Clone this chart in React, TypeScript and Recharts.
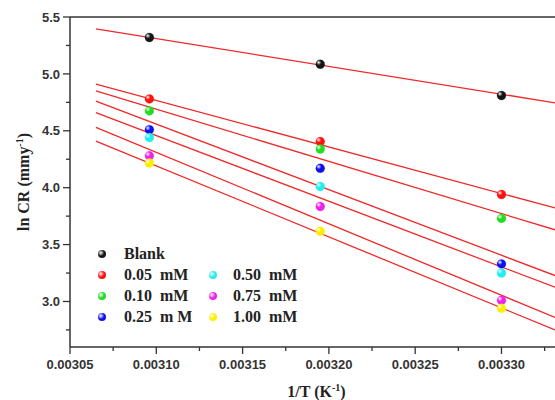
import React from 'react';
import { ComposedChart, Line, Scatter, XAxis, YAxis, ReferenceLine, Legend } from 'recharts';

const tempX = [0.003096, 0.003195, 0.0033];
const seriesNames = ['Blank', '0.05  mM', '0.10  mM', '0.25  m M', '0.50  mM', '0.75  mM', '1.00  mM'];
const seriesColors = ['#151515', '#ff1010', '#22dd22', '#1010ee', '#22eeee', '#ee22ee', '#ffee00'];
const blank = [5.32, 5.085, 4.81];
const c005 = [4.78, 4.405, 3.94];
const c010 = [4.675, 4.34, 3.73];
const c025 = [4.51, 4.17, 3.33];
const c050 = [4.44, 4.01, 3.25];
const c075 = [4.28, 3.835, 3.01];
const c100 = [4.217, 3.617, 2.94];
const seriesValues = [blank, c005, c010, c025, c050, c075, c100];

const fitX = [0.003065, 0.003331];
const fitStart = [5.395, 4.91, 4.85, 4.76, 4.66, 4.53, 4.41];
const fitEnd = [4.746, 3.822, 3.63, 3.228, 3.125, 2.86, 2.75];

const xTicks = [0.00305, 0.003075, 0.0031, 0.003125, 0.00315, 0.003175, 0.0032, 0.003225, 0.00325, 0.003275, 0.0033, 0.003325];
const yTicks = [2.75, 3.0, 3.25, 3.5, 3.75, 4.0, 4.25, 4.5, 4.75, 5.0, 5.25, 5.5];

const legendRows = [0, 1, 2, 3, 1, 2, 3];
const legendCols = [0, 0, 0, 0, 1, 1, 1];

const AXIS = '#333';
const tickFont = { fontFamily: '"Liberation Sans", Arial, sans-serif', fontWeight: 700, fontSize: 13, fill: '#333' };
const serif = '"Liberation Serif", "Times New Roman", serif';

const pointData = seriesValues.map((vals) => vals.map((y, i) => ({ x: tempX[i], y })));
const fitData = fitStart.map((s, i) => [
  { x: fitX[0], y: s },
  { x: fitX[1], y: fitEnd[i] },
]);

const isMajorX = (v: number) => Math.abs(v * 20000 - Math.round(v * 20000)) < 1e-6;
const isMajorY = (v: number) => Math.abs(v * 2 - Math.round(v * 2)) < 1e-6;

const XTick = (props: any) => {
  const { x, y, payload } = props;
  const major = isMajorX(payload.value);
  return (
    <g>
      <line x1={x} x2={x} y1={y} y2={y + (major ? 7 : 4)} stroke={AXIS} strokeWidth={1.3} />
      {major && (
        <text x={x} y={y + 13} dy="0.71em" textAnchor="middle" {...tickFont}>
          {payload.value.toFixed(5)}
        </text>
      )}
    </g>
  );
};

const YTick = (props: any) => {
  const { x, y, payload } = props;
  const major = isMajorY(payload.value);
  return (
    <g>
      <line x1={x - (major ? 7 : 4)} x2={x} y1={y} y2={y} stroke={AXIS} strokeWidth={1.3} />
      {major && (
        <text x={x - 10} y={y} dy="0.355em" textAnchor="end" {...tickFont}>
          {payload.value.toFixed(1)}
        </text>
      )}
    </g>
  );
};

const Sphere = (color: string, id: number, r: number) => (props: any) => {
  const { cx, cy } = props;
  if (cx == null || cy == null) return null;
  return <circle cx={cx} cy={cy} r={r} fill={`url(#sph${id})`} stroke={color} strokeOpacity={0.4} strokeWidth={0.5} />;
};

const ballBg = (c: string) => `radial-gradient(circle at 35% 35%, #ffffff 0%, ${c} 45%, ${c} 100%)`;

const LegendContent = () => (
  <div style={{ position: 'relative', width: 555, height: 400 }}>
    {seriesNames.map((name, i) => {
      const row = legendRows[i];
      const col = legendCols[i];
      const cy = 253.5 + row * 21.3;
      const mx = col === 0 ? 102 : 213;
      const tx = col === 0 ? 124 : 233;
      return (
        <React.Fragment key={name}>
          <div
            style={{
              position: 'absolute',
              left: mx - 4,
              top: cy - 4,
              width: 8,
              height: 8,
              borderRadius: '50%',
              background: ballBg(seriesColors[i]),
            }}
          />
          <div
            style={{
              position: 'absolute',
              left: tx,
              top: cy - 8,
              height: 16,
              lineHeight: '16px',
              fontFamily: serif,
              fontWeight: 700,
              fontSize: 16,
              color: '#222',
              whiteSpace: 'pre',
            }}
          >
            {name}
          </div>
        </React.Fragment>
      );
    })}
  </div>
);

const YTitle = (props: any) => {
  const vb = props.viewBox || { x: 0, y: 17, width: 70, height: 330 };
  const cx = 29;
  const cy = vb.y + vb.height / 2;
  return (
    <text
      x={cx}
      y={cy}
      transform={`rotate(-90 ${cx} ${cy})`}
      textAnchor="middle"
      fontFamily={serif}
      fontWeight={700}
      fontSize={16}
      fill="#222"
    >
      ln CR (mmy
      <tspan fontSize={10} dy={-6}>-1</tspan>
      <tspan dy={6}>)</tspan>
    </text>
  );
};

const XTitle = (props: any) => {
  const vb = props.viewBox || { x: 70, y: 347, width: 485, height: 53 };
  const cx = vb.x + vb.width / 2 + 4;
  return (
    <text x={cx} y={397} textAnchor="middle" fontFamily={serif} fontWeight={700} fontSize={16} fill="#222">
      1/T (K
      <tspan fontSize={10} dy={-6}>-1</tspan>
      <tspan dy={6}>)</tspan>
    </text>
  );
};

export default function App() {
  return (
    <div style={{ position: 'absolute', left: 0, top: 0, width: 555, height: 400, background: '#fff' }}>
      <ComposedChart width={555} height={400} margin={{ top: 17, right: 0, left: 0, bottom: 0 }}>
        <defs>
          {seriesColors.map((c, i) => (
            <radialGradient key={i} id={`sph${i}`} cx="35%" cy="35%" r="70%" fx="32%" fy="30%">
              <stop offset="0%" stopColor="#ffffff" />
              <stop offset="40%" stopColor={c} />
              <stop offset="100%" stopColor={c} />
            </radialGradient>
          ))}
        </defs>
        <XAxis
          type="number"
          dataKey="x"
          domain={[0.00305, 0.003331]}
          allowDataOverflow
          ticks={xTicks}
          interval={0}
          tickSize={0}
          tickMargin={0}
          tickLine={false}
          tick={<XTick />}
          height={53}
          axisLine={{ stroke: AXIS, strokeWidth: 1.5 }}
          label={<XTitle />}
        />
        <YAxis
          type="number"
          dataKey="y"
          domain={[2.6, 5.5]}
          allowDataOverflow
          ticks={yTicks}
          interval={0}
          tickSize={0}
          tickMargin={0}
          tickLine={false}
          tick={<YTick />}
          width={70}
          axisLine={{ stroke: AXIS, strokeWidth: 1.5 }}
          label={<YTitle />}
        />
        <ReferenceLine y={5.5} stroke={AXIS} strokeWidth={1.5} />
        {fitData.map((d, i) => (
          <Line
            key={`fit${i}`}
            data={d}
            dataKey="y"
            type="linear"
            stroke="#f02828"
            strokeWidth={1.3}
            dot={false}
            activeDot={false}
            isAnimationActive={false}
            legendType="none"
          />
        ))}
        {pointData.map((d, i) => (
          <Scatter
            key={`pts${i}`}
            name={seriesNames[i]}
            data={d}
            fill={seriesColors[i]}
            shape={Sphere(seriesColors[i], i, 4.5)}
            isAnimationActive={false}
          />
        ))}
        <Legend
          layout="vertical"
          align="center"
          verticalAlign="middle"
          content={<LegendContent />}
          wrapperStyle={{ left: 0, top: 0, width: 555, height: 400, pointerEvents: 'none' }}
        />
      </ComposedChart>
    </div>
  );
}
